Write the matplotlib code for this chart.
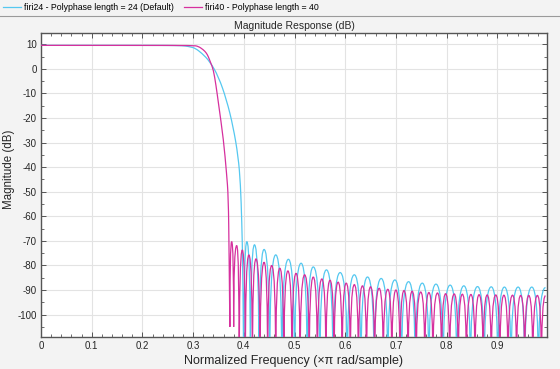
import matplotlib

matplotlib.use("Agg")
import matplotlib.pyplot as plt
from matplotlib.lines import Line2D
from matplotlib.patches import PathPatch
from matplotlib.path import Path
from matplotlib.ticker import MultipleLocator

# --- values ----------------------------------------------------------------
# firi24 (cyan): passband and main-lobe roll-off
c_main_f = [0.0, 0.20, 0.27, 0.285, 0.295, 0.304, 0.317, 0.333, 0.350, 0.366,
            0.379, 0.389, 0.3935, 0.396, 0.398]
c_main_db = [9.54, 9.54, 9.5, 9.3, 8.9, 8.4, 6.4, 3.0, -3.1, -12.6,
             -23.5, -35.7, -47.0, -62.0, -80.0]
# stopband nulls (first one closes the main lobe) and sidelobe peaks
c_null_f = [0.400, 0.413, 0.430, 0.451, 0.475, 0.500, 0.525, 0.550, 0.576,
            0.604, 0.631, 0.657, 0.684, 0.711, 0.738, 0.765, 0.793, 0.820,
            0.847, 0.874, 0.901, 0.927, 0.954, 0.981]
c_null_db = [-125.0] * len(c_null_f)
c_peak_f = [0.406, 0.421, 0.440, 0.463, 0.488, 0.513, 0.537, 0.563, 0.590,
            0.618, 0.644, 0.671, 0.698, 0.725, 0.752, 0.779, 0.807, 0.834,
            0.861, 0.888, 0.914, 0.941, 0.968, 0.995]
c_peak_db = [-70.3, -71.6, -73.5, -75.7, -77.5, -79.1, -80.6, -81.8, -82.9,
             -83.8, -84.7, -85.3, -85.9, -86.6, -87.2, -87.6, -88.0, -88.3,
             -88.6, -88.7, -88.8, -88.8, -88.8, -89.0]

# firi40 (magenta)
m_main_f = [0.0, 0.20, 0.30, 0.31, 0.320, 0.326, 0.330, 0.335, 0.340, 0.345,
            0.350, 0.360, 0.366, 0.3695, 0.371]
m_main_db = [9.54, 9.54, 9.5, 9.2, 7.8, 6.5, 5.0, 2.3, -0.4, -6.5,
             -14.0, -28.9, -42.5, -52.0, -75.0]
m_null_f = [0.3725, 0.380, 0.391, 0.403, 0.417, 0.432, 0.447, 0.463, 0.479,
            0.495, 0.511, 0.529, 0.545, 0.562, 0.578, 0.594, 0.610, 0.626,
            0.642, 0.658, 0.675, 0.692, 0.708, 0.724, 0.740, 0.757, 0.773,
            0.790, 0.806, 0.823, 0.839, 0.856, 0.872, 0.888, 0.905, 0.921,
            0.938, 0.954, 0.970, 0.987]
m_null_db = [-105.0, -105.0] + [-125.0] * (len(m_null_f) - 2)
m_peak_f = [0.376, 0.386, 0.397, 0.410, 0.424, 0.440, 0.455, 0.471, 0.487,
            0.503, 0.520, 0.537, 0.554, 0.570, 0.586, 0.602, 0.618, 0.634,
            0.650, 0.667, 0.684, 0.700, 0.716, 0.732, 0.749, 0.765, 0.782,
            0.798, 0.815, 0.831, 0.848, 0.864, 0.880, 0.897, 0.913, 0.930,
            0.946, 0.962, 0.979, 0.995]
m_peak_db = [-70.3, -71.9, -73.7, -75.7, -77.3, -78.7, -80.0, -81.1, -82.2,
             -83.2, -83.8, -84.7, -85.5, -86.0, -86.8, -87.2, -87.8, -88.3,
             -88.7, -89.3, -89.7, -90.0, -90.2, -90.5, -90.8, -91.0, -91.2,
             -91.5, -91.6, -91.7, -91.8, -91.9, -92.0, -92.0, -92.1, -92.1,
             -92.2, -92.2, -92.2, -92.3]

labels = ["firi24 - Polyphase length = 24 (Default)",
          "firi40 - Polyphase length = 40"]
colors = ["#55c8f0", "#d6309e"]

x_ticks = [0, 0.1, 0.2, 0.3, 0.4, 0.5, 0.6, 0.7, 0.8, 0.9]
x_tick_labels = ["0", "0.1", "0.2", "0.3", "0.4", "0.5", "0.6", "0.7", "0.8", "0.9"]
y_ticks = [10, 0, -10, -20, -30, -40, -50, -60, -70, -80, -90, -100]


def response_path(main_f, main_db, null_f, null_db, peak_f, peak_db):
    """Main lobe as a smoothed curve, sidelobes as arches null -> peak -> null."""
    pts = list(zip(main_f, main_db)) + [(null_f[0], null_db[0])]
    verts = [pts[0]]
    codes = [Path.MOVETO]
    # quadratic B-spline style smoothing through the read points
    for i in range(1, len(pts) - 2):
        mid = ((pts[i][0] + pts[i + 1][0]) / 2, (pts[i][1] + pts[i + 1][1]) / 2)
        verts += [pts[i], mid]
        codes += [Path.CURVE3, Path.CURVE3]
    verts += [pts[-2], pts[-1]]
    codes += [Path.CURVE3, Path.CURVE3]
    for i, (pf, pd) in enumerate(zip(peak_f, peak_db)):
        verts += [(null_f[i], pd), (pf, pd)]
        codes += [Path.CURVE3, Path.CURVE3]
        if i + 1 < len(null_f):
            verts += [(null_f[i + 1], pd), (null_f[i + 1], null_db[i + 1])]
            codes += [Path.CURVE3, Path.CURVE3]
    return Path(verts, codes)


plt.rcParams["font.family"] = ["Liberation Sans", "DejaVu Sans"]
plt.rcParams["axes.unicode_minus"] = False

fig = plt.figure(figsize=(5.6, 3.69), dpi=100)
fig.patch.set_facecolor("#f3f3f3")
ax = fig.add_axes([0.0732, 0.0875, 0.9036, 0.8239])
ax.set_facecolor("white")

series = [
    (c_main_f, c_main_db, c_null_f, c_null_db, c_peak_f, c_peak_db),
    (m_main_f, m_main_db, m_null_f, m_null_db, m_peak_f, m_peak_db),
]
for data, col in zip(series, colors):
    patch = PathPatch(response_path(*data), fill=False, edgecolor=col,
                      linewidth=0.9, zorder=3)
    ax.add_patch(patch)

ax.set_xlim(0, 0.998)
ax.set_ylim(-109, 14.7)
ax.set_xticks(x_ticks)
ax.set_xticklabels(x_tick_labels)
ax.set_yticks(y_ticks)
ax.xaxis.set_minor_locator(MultipleLocator(0.02))
ax.yaxis.set_minor_locator(MultipleLocator(5))
ax.grid(True, which="major", color="#e3e3e3", linewidth=0.8, zorder=0)
ax.set_axisbelow(True)
ax.tick_params(which="both", direction="in", top=True, right=True,
               labelsize=7, colors="#555555", labelcolor="#262626", pad=3)
ax.tick_params(which="major", length=3.5, width=0.7)
ax.tick_params(which="minor", length=2, width=0.6)
for sp in ax.spines.values():
    sp.set_color("#555555")
    sp.set_linewidth(1.0)

ax.set_title("Magnitude Response (dB)", fontsize=7.5, color="#262626", pad=3)
ax.set_xlabel("Normalized Frequency (\u00d7\u03c0 rad/sample)", fontsize=9,
              color="#262626", labelpad=3)
ax.set_ylabel("Magnitude (dB)", fontsize=8.3, color="#262626")
ax.yaxis.set_label_coords(-0.052, 0.55)

# legend strip along the top edge
handles = [Line2D([], [], color=c, linewidth=0.9) for c in colors]
fig.legend(handles, labels, loc="upper left", bbox_to_anchor=(0.0, 1.0),
           ncol=2, frameon=False, fontsize=6.3, handlelength=2.1,
           handletextpad=0.3, columnspacing=1.2, borderaxespad=0.1,
           borderpad=0.2)
fig.add_artist(Line2D([0, 1], [1 - 15.5 / 369, 1 - 15.5 / 369],
                      transform=fig.transFigure, color="#9a9a9a", linewidth=0.8))

fig.savefig("out.png", dpi=100, facecolor=fig.get_facecolor())
plt.close(fig)
